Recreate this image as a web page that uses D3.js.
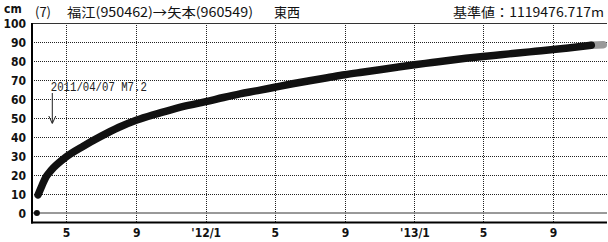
<!DOCTYPE html>
<html>
<head>
<meta charset="utf-8">
<script src="https://cdn.jsdelivr.net/npm/d3@7"></script>
<style>
  body { margin: 0; background: #fff; }
  svg { display: block; }
  .num { font-family: 'Liberation Sans Narrow', 'DejaVu Sans Condensed', 'Liberation Sans', sans-serif; font-weight: bold; font-size: 12px; fill: #111; }
  .ttl { font-family: 'Noto Sans CJK JP', 'Noto Sans', sans-serif; font-size: 13px; fill: #111; }
</style>
</head>
<body>
<div id="chart"></div>
<script>
// Displacement series (cm)
const startDot = ['2011-03-11', 0];
const dates = ['2011-03-13', '2011-03-20', '2011-03-27', '2011-04-05', '2011-04-15', '2011-05-01',
  '2011-06-01', '2011-07-01', '2011-08-01', '2011-09-01', '2011-10-01', '2011-11-01', '2011-12-01',
  '2012-01-01', '2012-02-01', '2012-03-01', '2012-04-01', '2012-05-01', '2012-06-01', '2012-07-01',
  '2012-08-01', '2012-09-01', '2012-10-01', '2012-11-01', '2012-12-01', '2013-01-01', '2013-02-01',
  '2013-03-01', '2013-04-01', '2013-05-01', '2013-06-01', '2013-07-01', '2013-08-01', '2013-09-01',
  '2013-10-01', '2013-11-07'];
const values = [9.5, 14.5, 19, 22.5, 25.5, 29.5,
  35.3, 40.3, 45.0, 48.8, 51.7, 54.3, 56.6,
  58.6, 60.8, 62.7, 64.4, 66.2, 68.0, 69.6,
  71.2, 72.8, 74.1, 75.4, 76.7, 78.0, 79.2,
  80.3, 81.4, 82.4, 83.3, 84.2, 85.1, 86.0,
  87.0, 88.3];
// preliminary (grey) tail
const prelimDates = ['2013-11-07', '2013-11-28'];
const prelimValues = [88.3, 88.6];

const xTicks = ['2011-05-01', '2011-09-01', '2012-01-01', '2012-05-01', '2012-09-01', '2013-01-01', '2013-05-01', '2013-09-01'];
const xTickLabels = ['5', '9', "'12/1", '5', '9', "'13/1", '5', '9'];
const yTicks = [0, 10, 20, 30, 40, 50, 60, 70, 80, 90, 100];

const quakeDate = '2011-04-07';
const quakeLabel = '2011/04/07 M7.2';

const W = 608, H = 242;
const parse = d3.timeParse('%Y-%m-%d');
const plotLeft = 32, plotRight = 607, plotTop = 23, plotBottom = 222.5;

const svg = d3.select('#chart').append('svg')
  .attr('width', W)
  .attr('height', H);

const x = d3.scaleTime()
  .domain([parse('2011-03-01'), parse('2013-12-01')])
  .range([31.2, 605]);

const y = d3.scaleLinear()
  .domain([-5, 100])
  .range([plotBottom, plotTop]);

// Grid
svg.append('g').selectAll('line')
  .data(yTicks.filter(d => d > 0 && d < 100))
  .enter().append('line')
  .attr('x1', plotLeft).attr('x2', plotRight)
  .attr('y1', d => Math.round(y(d)) + 0.5).attr('y2', d => Math.round(y(d)) + 0.5)
  .attr('stroke', '#222').attr('stroke-width', 1)
  .attr('stroke-dasharray', '1,1')
  .attr('shape-rendering', 'crispEdges');

svg.append('g').selectAll('line')
  .data(xTicks)
  .enter().append('line')
  .attr('x1', d => Math.round(x(parse(d))) + 0.5).attr('x2', d => Math.round(x(parse(d))) + 0.5)
  .attr('y1', plotTop).attr('y2', plotBottom)
  .attr('stroke', '#222').attr('stroke-width', 1)
  .attr('stroke-dasharray', '1,1')
  .attr('shape-rendering', 'crispEdges');

// zero line
svg.append('line')
  .attr('x1', plotLeft).attr('x2', plotRight)
  .attr('y1', y(0)).attr('y2', y(0))
  .attr('stroke', '#777').attr('stroke-width', 1.5);

// Frame
svg.append('line')
  .attr('x1', plotLeft).attr('x2', plotRight)
  .attr('y1', plotTop + 0.5).attr('y2', plotTop + 0.5)
  .attr('stroke', '#333').attr('stroke-width', 1);
svg.append('line')
  .attr('x1', plotLeft).attr('x2', plotLeft)
  .attr('y1', plotTop).attr('y2', plotBottom + 1)
  .attr('stroke', '#000').attr('stroke-width', 2);
svg.append('line')
  .attr('x1', plotLeft - 1).attr('x2', plotRight)
  .attr('y1', plotBottom).attr('y2', plotBottom)
  .attr('stroke', '#000').attr('stroke-width', 2);

// Axes
const xAxis = svg.append('g')
  .attr('transform', `translate(0,${plotBottom})`)
  .call(d3.axisBottom(x)
    .tickValues(xTicks.map(parse))
    .tickSize(0)
    .tickPadding(6)
    .tickFormat((d, i) => xTickLabels[i]));
xAxis.select('.domain').remove();
xAxis.selectAll('text').attr('class', 'num').attr('fill', null);

const yAxis = svg.append('g')
  .attr('transform', `translate(${plotLeft - 6},0)`)
  .call(d3.axisLeft(y)
    .tickValues(yTicks)
    .tickSize(0)
    .tickPadding(0));
yAxis.select('.domain').remove();
yAxis.selectAll('text').attr('class', 'num').attr('fill', null).attr('dy', '0.36em');
xAxis.attr('font-family', null).attr('font-size', null);
yAxis.attr('font-family', null).attr('font-size', null);

// Series
const line = d3.line()
  .x(d => x(d[0]))
  .y(d => y(d[1]))
  .curve(d3.curveMonotoneX);

svg.append('path')
  .datum(prelimDates.map((d, i) => [parse(d), prelimValues[i]]))
  .attr('fill', 'none')
  .attr('stroke', '#999')
  .attr('stroke-width', 7.5)
  .attr('stroke-linecap', 'round')
  .attr('d', line);

svg.append('path')
  .datum(dates.map((d, i) => [parse(d), values[i]]))
  .attr('fill', 'none')
  .attr('stroke', '#111')
  .attr('stroke-width', 7.5)
  .attr('stroke-linecap', 'round')
  .attr('stroke-linejoin', 'round')
  .attr('d', line);

svg.append('circle')
  .attr('cx', x(parse(startDot[0])))
  .attr('cy', y(startDot[1]))
  .attr('r', 3)
  .attr('fill', '#111');

// Quake annotation
const qx = x(parse(quakeDate));
svg.append('text')
  .attr('x', qx - 1.5)
  .attr('y', 90.5)
  .attr('font-family', "'Liberation Mono', 'DejaVu Sans Mono', monospace")
  .attr('font-size', 12.5)
  .attr('textLength', 96)
  .attr('lengthAdjust', 'spacingAndGlyphs')
  .attr('fill', '#222')
  .text(quakeLabel);
svg.append('path')
  .attr('d', `M${qx},93 L${qx},123 M${qx - 3.5},116 L${qx},123.5 L${qx + 3.5},116`)
  .attr('fill', 'none')
  .attr('stroke', '#222')
  .attr('stroke-width', 1);

// Titles
svg.append('text').attr('class', 'num').attr('x', 4).attr('y', 13).text('cm');
svg.append('text').attr('class', 'ttl').attr('x', 35).attr('y', 17).text('(7)');
svg.append('text').attr('class', 'ttl').attr('x', 67).attr('y', 17)
  .attr('textLength', 186).attr('lengthAdjust', 'spacingAndGlyphs')
  .text('福江(950462)→矢本(960549)');
svg.append('text').attr('class', 'ttl').attr('x', 274).attr('y', 17).text('東西');
svg.append('text').attr('class', 'ttl').attr('x', 453).attr('y', 17)
  .attr('textLength', 151).attr('lengthAdjust', 'spacingAndGlyphs')
  .text('基準値：1119476.717m');
</script>
</body>
</html>
